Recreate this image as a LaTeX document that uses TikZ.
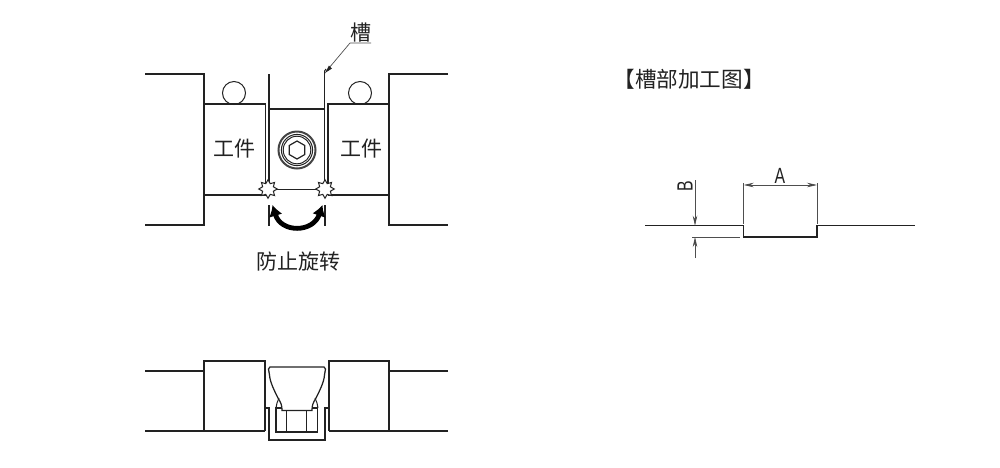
\documentclass[tikz,border=0pt]{standalone}
\usepackage{fontspec}
\setmainfont{Liberation Sans}
\newfontfamily\cjk{Noto Sans CJK SC}
\usetikzlibrary{arrows.meta,shapes.geometric}
\definecolor{ink}{HTML}{222222}
\tikzset{
  part/.style={draw=ink,line width=1.25pt,line join=miter},
  thin part/.style={draw=ink,line width=1pt},
  dimline/.style={draw=ink!80,line width=0.7pt},
  dimarrow/.style={dimline,-{Stealth[length=10pt,width=4.5pt,fill=ink]}},
  dimarrows/.style={dimline,{Stealth[length=10pt,width=4.5pt,fill=ink]}-{Stealth[length=10pt,width=4.5pt,fill=ink]}},
  cjklabel/.style={inner sep=0pt,text=ink,font=\cjk\fontsize{21}{25}\selectfont},
  titlelabel/.style={cjklabel,font=\cjk\fontsize{21.6}{25}\selectfont},
  burr/.style={star,star points=8,star point ratio=1.6,minimum size=18.5pt,inner sep=0pt,draw=ink,line width=1pt,line join=miter,fill=white},
  latin/.style={inner sep=0pt,text=ink,font=\fontsize{22}{25}\selectfont},
}
\newcommand{\narrowtxt}[1]{\scalebox{0.72}[1]{#1}}
\begin{document}
\begin{tikzpicture}[x=1pt,y=-1pt]
\useasboundingbox (0,0) rectangle (1000,467);
% --- top view
\draw[part] (145,74) -- (204,74) -- (204,225) -- (145,225);
\draw[part] (448,74) -- (389,74) -- (389,225) -- (448,225);
\draw[part] (204,104) -- (265.5,104) -- (265.5,195);
\draw[part] (389,104) -- (328,104) -- (328,195);
\draw[part] (204,195) -- (265.5,195);
\draw[part] (328,195) -- (389,195);
\draw[part] (269,74) -- (269,189);
\draw[part] (324.5,74) -- (324.5,189);
\draw[part] (269,109) -- (324.5,109);
\draw[thin part] (269,189) -- (324.5,189);
\draw[thin part] (234,93) circle (11.5);
\draw[thin part] (360,93) circle (11.5);
% bolt
\draw[draw=ink!85,line width=2pt] (297,150) circle (18.5);
\draw[thin part,line width=1pt] (297,150) circle (15.6);
\draw[thin part,line width=1pt] (297,150) circle (13.8);
\draw[thin part,line width=1.2pt] (297,141) -- (304.8,145.5) -- (304.8,154.5) -- (297,159) -- (289.2,154.5) -- (289.2,145.5) -- cycle;
% burrs
\node[burr] (burrL) at (268,189) {};
\node[burr] (burrR) at (325,189) {};
% arc
\draw[part] (269,205) -- (269,226);
\draw[part] (325,205) -- (325,226);
\draw[draw=black,line width=4.8pt,{Latex[length=11pt,width=14pt]}-{Latex[length=11pt,width=14pt]}]
  (272.5,205) .. controls (281,233) and (313,233) .. (322.5,205);
% leader
\node[cjklabel] (slot) at (361,33) {槽};
\coordinate (leaderKnee) at (350,43);
\coordinate (leaderEnd) at (371,43);
\draw[dimline] (leaderEnd) -- (leaderKnee) -- (329,68);
\draw[part,line width=1pt] (324.5,74) -- (324.5,71) -- (326,69);
\fill[ink] (325,73) -- (329,65.5) -- (332,68.5) -- cycle;
% labels
\node[cjklabel] (w1) at (234.5,149) {工件};
\node[cjklabel] (w2) at (361,149) {工件};
\node[cjklabel] (note) at (298,262) {防止旋转};
\node[titlelabel] (title) at (689,79) {【槽部加工图】};
% --- bottom view
\draw[part] (145,371) -- (204,371);
\draw[part] (145,431) -- (265,431);
\draw[part] (448,371) -- (389,371);
\draw[part] (448,431) -- (329,431);
\draw[part] (204,431) -- (204,361) -- (265,361) -- (265,431);
\draw[part] (389,431) -- (389,361) -- (329,361) -- (329,431);
\draw[part] (265,408) -- (269,408) -- (269,440) -- (325,440) -- (325,408) -- (329,408);
\draw[part,line width=1.7pt] (269,440) -- (325,440);
\draw[part] (282,410.5) .. controls (282,405) and (281,403) .. (278,398) .. controls (274,390) and (270,382) .. (269.5,375) -- (268.5,369) -- (270,367) -- (324,367) -- (325.5,369) -- (324.5,375) .. controls (324,382) and (320,390) .. (316,398) .. controls (313,403) and (312,405) .. (312,410.5) -- cycle;
\draw[thin part] (276,408) -- (277,403) -- (279,398);
\draw[thin part] (318,408) -- (317,403) -- (315,398);
\draw[part] (282,408) -- (276,408) -- (276,432) -- (317.5,432) -- (317.5,408) -- (312,408);
\draw[thin part] (286.7,410.5) -- (286.7,432);
\draw[thin part] (306.7,410.5) -- (306.7,432);
% --- groove detail
\draw[part] (645,225.7) -- (743.7,225.7) -- (743.7,237) -- (817,237) -- (817,225.7) -- (915,225.7);
\draw[dimline] (743.7,183) -- (743.7,224);
\draw[dimline] (817,183) -- (817,224);
\coordinate (dimAl) at (743.7,185);
\coordinate (dimAr) at (817,185);
\draw[dimarrows] (dimAl) -- (dimAr);
\node[latin] (labA) at (780,175.5) {\narrowtxt{A}};
\draw[dimline] (692,237) -- (740,237);
\coordinate (dimB1) at (695,180);
\coordinate (dimB2) at (695,225.7);
\coordinate (dimB3) at (695,258);
\coordinate (dimB4) at (695,237);
\draw[dimarrow] (dimB1) -- (dimB2);
\draw[dimarrow] (dimB3) -- (dimB4);
\node[latin,rotate=90] (labB) at (685,186) {\narrowtxt{B}};
\end{tikzpicture}
\end{document}
